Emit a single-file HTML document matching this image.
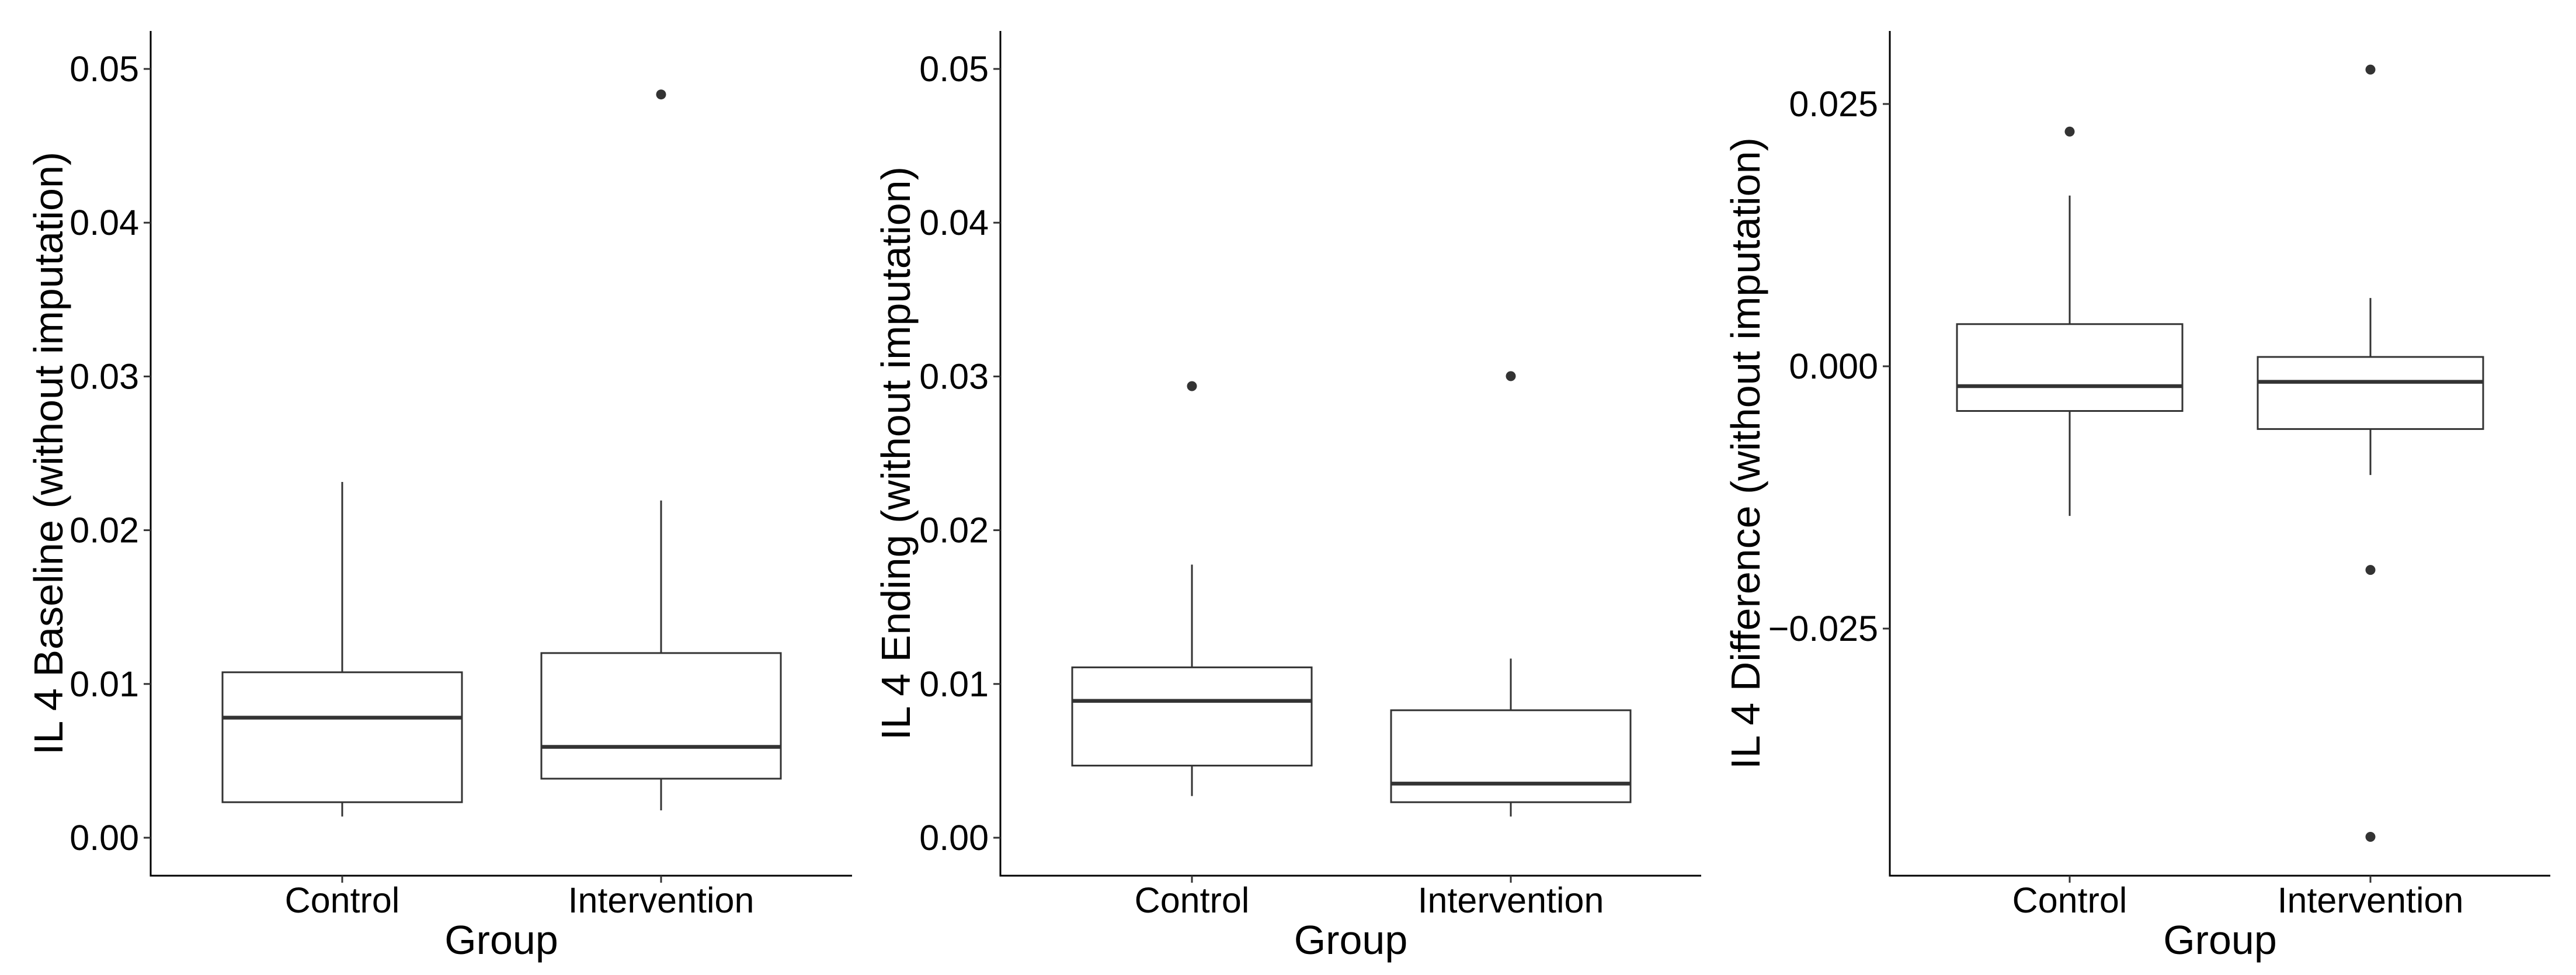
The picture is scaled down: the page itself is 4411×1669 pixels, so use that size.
<!DOCTYPE html>
<html><head><meta charset="utf-8">
<style>
html,body{margin:0;padding:0;background:#fff;}
svg{display:block;font-family:"Liberation Sans",Arial,sans-serif;}
</style></head>
<body>
<svg id="chart" width="4411" height="1669" viewBox="0 0 4411 1669" xmlns="http://www.w3.org/2000/svg"></svg>
<script>
// Data arrays
const categories = ["Control", "Intervention"];
const panelTitles = ["IL 4 Baseline (without imputation)", "IL 4 Ending (without imputation)", "IL 4 Difference (without imputation)"];
// [whiskerLow, Q1, median, Q3, whiskerHigh]
const baselineStats = [[0.00138, 0.00231, 0.00781, 0.01076, 0.02314], [0.00178, 0.00384, 0.00591, 0.01201, 0.02193]];
const baselineOutliers = [[], [0.04834]];
const endingStats = [[0.00271, 0.00469, 0.0089, 0.01108, 0.01776], [0.00138, 0.00231, 0.00352, 0.00829, 0.01165]];
const endingOutliers = [[0.02937], [0.03002]];
const diffStats = [[-0.01426, -0.00426, -0.00189, 0.00402, 0.01627], [-0.01036, -0.00598, -0.00148, 0.00089, 0.00651]];
const diffOutliers = [[0.02237], [0.02828, -0.01941, -0.04485]];
const ticks12 = [0, 0.01, 0.02, 0.03, 0.04, 0.05];
const tickLabels12 = ["0.00", "0.01", "0.02", "0.03", "0.04", "0.05"];
const ticks3 = [-0.025, 0, 0.025];
const tickLabels3 = ["\u22120.025", "0.000", "0.025"];

const NS = "http://www.w3.org/2000/svg";
const svg = document.getElementById("chart");
function mk(tag, attrs, parent) {
  const e = document.createElementNS(NS, tag);
  for (const k in attrs) e.setAttribute(k, attrs[k]);
  (parent || svg).appendChild(e);
  return e;
}

const panels = [
  {title: panelTitles[0], stats: baselineStats, outl: baselineOutliers, ticks: ticks12, labels: tickLabels12,
   axisX: 258, right: 1459, centers: [586, 1132], half: 205, yt: 83, v0: 0, y0: 1434, v1: 0.05, y1: 118},
  {title: panelTitles[1], stats: endingStats, outl: endingOutliers, ticks: ticks12, labels: tickLabels12,
   axisX: 1713, right: 2913, centers: [2041, 2587], half: 205, yt: 1534, v0: 0, y0: 1434, v1: 0.05, y1: 118},
  {title: panelTitles[2], stats: diffStats, outl: diffOutliers, ticks: ticks3, labels: tickLabels3,
   axisX: 3236, right: 4367, centers: [3544, 4059], half: 193, yt: 2989, v0: 0, y0: 627, v1: 0.025, y1: 178}
];

panels.forEach((p, pi) => {
  const g = mk("g", {});
  
  
  const yScale = v => p.y0 + (v - p.v0) * (p.y1 - p.y0) / (p.v1 - p.v0);
  const top = 53, bottom = 1499;

  const ya = mk("line", {x1: p.axisX, y1: top, x2: p.axisX, y2: bottom + 1.5, stroke: "#000", "stroke-width": 3}, g);
  
  
  const xa = mk("line", {x1: p.axisX - 1.5, y1: bottom, x2: p.right, y2: bottom, stroke: "#000", "stroke-width": 3}, g);
  
  

  p.ticks.forEach((t, i) => {
    const y = yScale(t);
    const tl = mk("line", {x1: p.axisX - 12, y1: y, x2: p.axisX, y2: y, stroke: "#333", "stroke-width": 3}, g);
    
    
    const tx = mk("text", {x: p.axisX - 20, y: y + 21, "text-anchor": "end", "font-size": 61, fill: "#000"}, g);
    tx.textContent = p.labels[i];
    
    
  });

  categories.forEach((c, i) => {
    const x = p.centers[i];
    const tl = mk("line", {x1: x, y1: bottom, x2: x, y2: bottom + 12, stroke: "#333", "stroke-width": 3}, g);
    
    
    const tx = mk("text", {x: x, y: 1562, "text-anchor": "middle", "font-size": 61, fill: "#000"}, g);
    tx.textContent = c;
    
    
  });

  const xt = mk("text", {x: (p.axisX + p.right) / 2, y: 1633, "text-anchor": "middle", "font-size": 70, fill: "#000"}, g);
  xt.textContent = "Group";
  
  
  const cy = (top + bottom) / 2;
  const ytl = mk("text", {x: p.yt, y: cy, "text-anchor": "middle", "dominant-baseline": "central", "font-size": 70, fill: "#000",
    transform: `rotate(-90 ${p.yt} ${cy})`}, g);
  ytl.textContent = p.title;
  
  

  categories.forEach((c, i) => {
    const s = p.stats[i];
    const x = p.centers[i];
    const bg = mk("g", {}, g);
    
    
    const w1 = mk("line", {x1: x, y1: yScale(s[0]), x2: x, y2: yScale(s[1]), stroke: "#333", "stroke-width": 3}, bg);
    
    
    const w2 = mk("line", {x1: x, y1: yScale(s[3]), x2: x, y2: yScale(s[4]), stroke: "#333", "stroke-width": 3}, bg);
    
    
    const r = mk("rect", {x: x - p.half, y: yScale(s[3]), width: 2 * p.half, height: yScale(s[1]) - yScale(s[3]),
      fill: "#fff", stroke: "#333", "stroke-width": 3}, bg);
    
    
    const m = mk("line", {x1: x - p.half, y1: yScale(s[2]), x2: x + p.half, y2: yScale(s[2]), stroke: "#333", "stroke-width": 6.5}, bg);
    
    
    p.outl[i].forEach(v => {
      const o = mk("circle", {cx: x, cy: yScale(v), r: 8.5, fill: "#333"}, bg);
      
      
    });
  });
});
</script>
</body></html>
